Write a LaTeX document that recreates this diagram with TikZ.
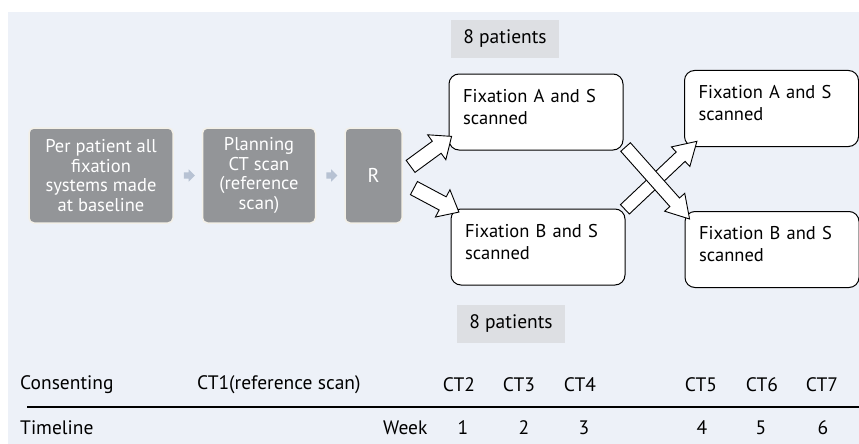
\documentclass[tikz,border=0pt]{standalone}
\usepackage{fontspec}
\setmainfont{PT Sans}
\usetikzlibrary{positioning,shapes.arrows,calc}
\definecolor{bgblue}{HTML}{EDF1F8}
\definecolor{boxgray}{HTML}{939598}
\definecolor{rimgray}{HTML}{F3F0E8}
\definecolor{taggray}{HTML}{DDDFE3}
\definecolor{stepblue}{HTML}{B7C2D3}
\tikzset{gbox/.style={rectangle,rounded corners=5pt,fill=boxgray,draw=rimgray,line width=1.5pt,
		text=white,align=center,minimum height=95pt,inner sep=0pt,
		font=\fontsize{18.5}{19.5}\selectfont},
	 fbox/.style={rectangle,rounded corners=10pt,draw,fill=white,line width=1pt,
		minimum width=170pt,minimum height=76pt,text width=146pt,inner xsep=14pt,
		text depth=33pt,align=left,font=\fontsize{18.5}{22}\selectfont},
	 tag/.style={rectangle,fill=taggray,minimum width=108pt,minimum height=38pt,
		font=\fontsize{19.5}{22}\selectfont},
	 stepar/.style={single arrow,fill=stepblue,inner sep=3pt,minimum height=11pt,
		single arrow head extend=3pt},
	 barrow/.style={single arrow,draw,fill=white,line width=0.9pt,inner xsep=0pt,
		single arrow head indent=0pt},
	 wide/.style={inner ysep=7pt,single arrow head extend=8pt,single arrow tip angle=80},
	 thin/.style={inner ysep=6pt,single arrow head extend=7pt,single arrow tip angle=62},
	 tline/.style={font=\fontsize{19.5}{22}\selectfont,inner sep=0pt},
	 node distance = 28pt
	 }
% block arrow between two named points
\newcommand{\blockarrow}[4]{%
	\path let \p1=(#1), \p2=(#2), \n1={atan2(\y2-\y1,\x2-\x1)},
		\n2={veclen(\x2-\x1,\y2-\y1)} in
		node[barrow,#3,rotate=\n1,minimum height=\n2] (#4) at ($(#1)!0.5!(#2)$) {};}

\begin{document}
\begin{tikzpicture}[x=1pt,y=-1pt]
	\useasboundingbox (0,0) rectangle (859,444);
	\fill[bgblue] (8,12) rectangle (859,444);
	% gray steps
	\node[gbox,minimum width=144pt] (made) at (101,175.5) {Per patient all\\fixation\\systems made\\at baseline};
	\node[gbox,minimum width=113pt] (plan) [right= of made] {Planning\\CT scan\\(reference\\scan)};
	\node[gbox,minimum width=57pt,font=\fontsize{20}{20}\selectfont] (rand) [right= of plan] {R};
	\node[stepar] (s1) at ($(made.east)!0.5!(plan.west)$) {};
	\node[stepar] (s2) at ($(plan.east)!0.5!(rand.west)$) {};
	% fixation boxes
	\node[tag] (topn) at (505,39) {8 patients};
	\node[fbox] (fa1) at (536,112) {Fixation A and S\\scanned};
	\node[fbox] (fb1) at (538,247) {Fixation B and S\\scanned};
	\node[fbox] (fa2) at (771.5,108.5) {Fixation A and S\\scanned};
	\node[fbox] (fb2) at (772,249.5) {Fixation B and S\\scanned};
	\node[tag] (botn) at (511,324) {8 patients};
	% block arrows
	\coordinate (t1) at (407,169); \coordinate (h1) at (448,139);
	\coordinate (t2) at (410,186); \coordinate (h2) at (455,210);
	\coordinate (t3) at (622,143); \coordinate (h3) at (686,215);
	\coordinate (t4) at (621,213); \coordinate (h4) at (693,145);
	\blockarrow{t1}{h1}{wide}{ra}
	\blockarrow{t2}{h2}{wide}{rb}
	\blockarrow{t4}{h4}{thin}{ba}
	\blockarrow{t3}{h3}{thin}{ab}
	% timeline
	\coordinate (l0) at (27,407); \coordinate (l1) at (859,407);
	\draw[line width=1.2pt] (l0) -- (l1);
	\node[tline,anchor=west] (cons) at (20,385) {Consenting};
	\node[tline,anchor=west] (ct1) at (197,385) {CT1(reference scan)};
	\node[tline,anchor=west] (time) at (20,428) {Timeline};
	\node[tline,anchor=west] (week) at (383,428) {Week};
	\foreach \x/\t [count=\i from 2] in {459/2,519/3,580/4,701/5,762/6,822/7}
		\node[tline] (ct\i) at (\x,385) {CT\t};
	\foreach \x/\w in {463/1,524/2,584/3,702/4,761/5,823/6}
		\node[tline] (wk\w) at (\x,428) {\w};
\end{tikzpicture}
\end{document}
